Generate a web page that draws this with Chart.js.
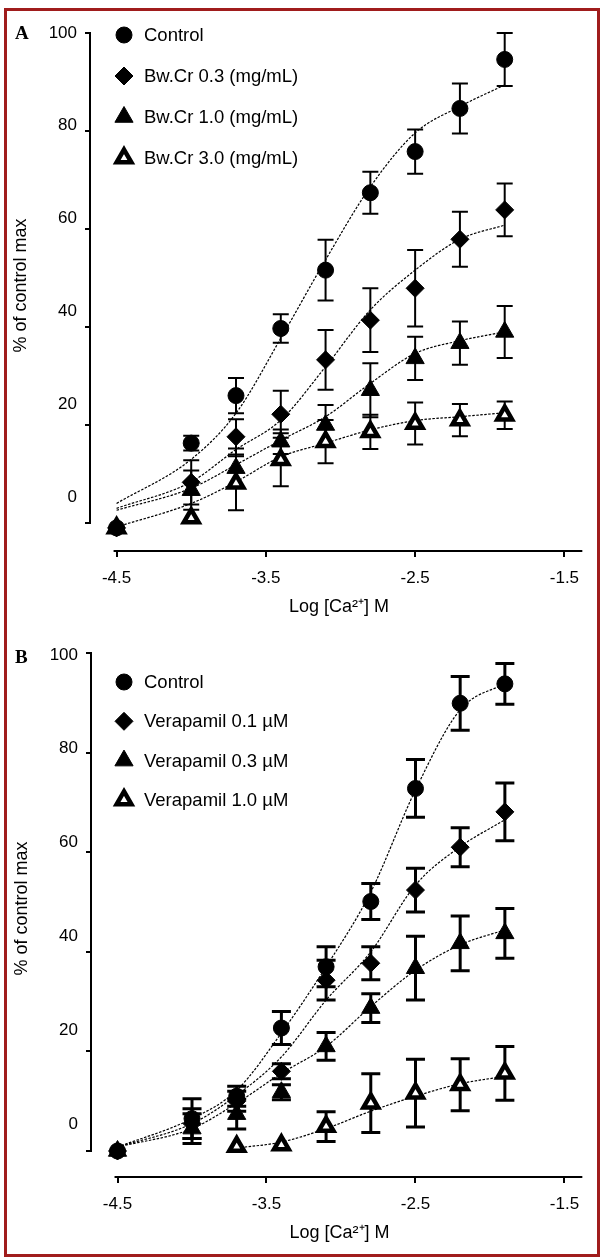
<!DOCTYPE html>
<html lang="en">
<head>
    <meta charset="UTF-8">
    <title>Ca2+ concentration-response curves</title>
    <script src="https://cdn.jsdelivr.net/npm/chart.js"></script>
    <style>
        * {
            margin: 0;
            padding: 0;
            box-sizing: border-box;
        }

        body {
            background: #fff;
            width: 601px;
            height: 1258px;
            position: relative;
            overflow: hidden;
            font-family: "Liberation Sans", Arial, sans-serif;
        }

        .panel {
            position: absolute;
            left: 0;
        }

        #chartA { top: 0; }
        #chartB { top: 620px; }

        .letter {
            position: absolute;
            left: 15px;
            font: bold 19px/19px "Liberation Serif", "DejaVu Serif", serif;
            color: #000;
        }

        .frame {
            position: absolute;
            left: 4px;
            top: 8px;
            width: 596px;
            height: 1249px;
            border: 3px solid #a01c1c;
            pointer-events: none;
        }
    </style>
</head>
<body>
    <canvas id="chartA" class="panel" width="601" height="620"></canvas>
    <canvas id="chartB" class="panel" width="601" height="638"></canvas>
    <div class="letter" style="top:23px">A</div>
    <div class="letter" style="top:647px">B</div>
    <div class="frame"></div>

    <script>
        // log10 of the Ca2+ concentrations tested
        const LOG_CA = [-4.5, -4.0, -3.7, -3.4, -3.1, -2.8, -2.5, -2.2, -1.9];
        const X_TICKS = [-4.5, -3.5, -2.5, -1.5];
        const Y_TICKS = [0, 20, 40, 60, 80, 100];

        // Panel A - Bw.Cr
        const A_LABELS = ['Control', 'Bw.Cr 0.3 (mg/mL)', 'Bw.Cr 1.0 (mg/mL)', 'Bw.Cr 3.0 (mg/mL)'];
        const A_CONTROL = [-1, 16.3, 26, 39.7, 51.6, 67.4, 75.8, 84.6, 94.6];
        const A_CONTROL_ERR = [0, 1.5, 3.6, 2.9, 6.2, 4.3, 4.5, 5.1, 5.4];
        const A_BW03 = [-1, 8.3, 17.6, 22.2, 33.3, 41.4, 47.9, 57.9, 63.9];
        const A_BW03_ERR = [0, 4.5, 3.6, 4.8, 6.1, 6.5, 7.8, 5.6, 5.4];
        const A_BW10 = [-1, 6.7, 11.2, 16.6, 20, 27.1, 33.6, 36.7, 39];
        const A_BW10_ERR = [0, 4, 4, 2.5, 4.1, 5.5, 4.4, 4.4, 5.3];
        const A_BW30 = [-1, 1, 8.1, 12.9, 16.6, 18.6, 20.3, 21, 22];
        const A_BW30_ERR = [0, 0, 5.5, 5.4, 4.4, 3.5, 4.3, 3.3, 2.8];
        // fitted curves, read at the same concentrations
        const A_CONTROL_FIT = [4, 13, 22.4, 37.7, 53.7, 68.6, 79.6, 85, 89.4];
        const A_BW03_FIT = [3, 8.4, 15, 21, 31.9, 43.5, 51.6, 57.9, 60.8];
        const A_BW10_FIT = [2.6, 7.1, 11.9, 16.9, 21.7, 28.5, 34.6, 37.2, 39];
        const A_BW30_FIT = [-0.8, 4, 8.4, 13.5, 16.3, 19, 20.9, 21.7, 22.5];

        // Panel B - Verapamil
        const B_LABELS = ['Control', 'Verapamil 0.1 µM', 'Verapamil 0.3 µM', 'Verapamil 1.0 µM'];
        const B_CONTROL = [0, 6.5, 11, 24.7, 37, 50.1, 72.8, 89.9, 93.8];
        const B_CONTROL_ERR = [0, 4, 2, 3.3, 4, 3.6, 5.8, 5.4, 4.1];
        const B_VER01 = [0, 5.5, 10, 16, 34.3, 37.7, 52.4, 61, 68.1];
        const B_VER01_ERR = [0, 3, 2, 1.5, 4, 3.3, 4.4, 3.9, 5.8];
        const B_VER03 = [0, 4.5, 7.4, 11.8, 21, 28.7, 36.7, 41.7, 43.7];
        const B_VER03_ERR = [0, 3, 3, 1.5, 2.8, 2.9, 6.4, 5.5, 5];
        const B_VER10 = [null, null, 0.9, 1.2, 4.9, 9.6, 11.6, 13.3, 15.6];
        const B_VER10_ERR = [null, null, 0, 0, 3, 5.9, 6.8, 5.2, 5.4];
        const B_CONTROL_FIT = [0.8, 6.5, 12.2, 23.7, 37, 52, 72.5, 88.6, 93.9];
        const B_VER01_FIT = [0.8, 5.5, 11.2, 18.9, 30.3, 40, 53.4, 61.1, 66.5];
        const B_VER03_FIT = [0.8, 4.5, 9.6, 15.6, 21, 29, 36.3, 41.4, 44.4];
        const B_VER10_FIT = [null, null, 0.6, 1.8, 4.5, 8, 11, 13.5, 15];

        // marker per series: control, low, mid, high
        const MARKERS = [
            { pointStyle: 'circle', radius: 8, fill: '#000', border: 1 },
            { pointStyle: 'rectRot', radius: 9, fill: '#000', border: 1 },
            { pointStyle: 'triangle', radius: 10.5, fill: '#000', border: 1 },
            { pointStyle: 'triangle', radius: 8.5, fill: '#fff', border: 4.5 }
        ];

        Chart.defaults.font.family = '"Liberation Sans", Arial, sans-serif';
        Chart.defaults.color = '#000';

        const toPoints = values => LOG_CA
            .map((x, i) => ({ x: x, y: values[i] }))
            .filter(p => p.y !== null);

        // axis lines, error bars and the in-plot legend
        const sigmaStyle = {
            id: 'sigmaStyle',
            beforeDatasetsDraw(chart, args, opts) {
                const ctx = chart.ctx;
                const x = chart.scales.x, y = chart.scales.y;
                const area = chart.chartArea;
                ctx.save();
                ctx.strokeStyle = '#000';
                ctx.lineWidth = 2;
                ctx.beginPath();
                ctx.moveTo(area.left, y.getPixelForValue(Y_TICKS[0]) + 1);
                ctx.lineTo(area.left, y.getPixelForValue(Y_TICKS[Y_TICKS.length - 1]) - 1);
                ctx.moveTo(x.getPixelForValue(opts.xLine[0]), area.bottom);
                ctx.lineTo(x.getPixelForValue(opts.xLine[1]), area.bottom);
                ctx.stroke();

                // error bars
                opts.errors.forEach((errs, s) => {
                    const means = opts.means[s];
                    LOG_CA.forEach((lx, i) => {
                        if (means[i] === null || !errs[i]) return;
                        const px = x.getPixelForValue(lx);
                        const top = y.getPixelForValue(means[i] + errs[i]);
                        const bot = y.getPixelForValue(means[i] - errs[i]);
                        ctx.lineWidth = opts.bar;
                        ctx.beginPath();
                        ctx.moveTo(px, top);
                        ctx.lineTo(px, bot);
                        ctx.stroke();
                        ctx.lineWidth = opts.capWidth;
                        ctx.beginPath();
                        ctx.moveTo(px - opts.cap, top);
                        ctx.lineTo(px + opts.cap, top);
                        ctx.moveTo(px - opts.cap, bot);
                        ctx.lineTo(px + opts.cap, bot);
                        ctx.stroke();
                    });
                });
                ctx.restore();
            },
            afterDraw(chart, args, opts) {
                const ctx = chart.ctx;
                const lg = opts.legend;
                ctx.save();
                ctx.font = '18.5px "Liberation Sans", Arial, sans-serif';
                ctx.textBaseline = 'middle';
                ctx.textAlign = 'left';
                opts.labels.forEach((label, i) => {
                    const m = MARKERS[i];
                    const ly = lg.y0 + i * lg.dy;
                    ctx.fillStyle = m.fill;
                    ctx.strokeStyle = '#000';
                    ctx.lineWidth = m.border;
                    Chart.helpers.drawPoint(ctx, {
                        pointStyle: m.pointStyle, radius: m.radius, borderWidth: m.border, rotation: 0
                    }, lg.x, ly);
                    ctx.fillStyle = '#000';
                    ctx.fillText(label, lg.textX, ly + 1);
                });
                ctx.restore();
            }
        };

        function makePanel(canvasId, p) {
            const datasets = [];
            p.means.forEach((values, s) => {
                const m = MARKERS[s];
                datasets.push({
                    label: p.labels[s],
                    data: toPoints(values),
                    order: 0,
                    showLine: false,
                    pointStyle: m.pointStyle,
                    pointRadius: m.radius,
                    pointBackgroundColor: m.fill,
                    pointBorderColor: '#000',
                    pointBorderWidth: m.border
                });
                datasets.push({
                    label: p.labels[s] + ' fit',
                    data: toPoints(p.fits[s]),
                    order: 1,
                    showLine: true,
                    pointRadius: 0,
                    borderColor: '#000',
                    borderWidth: 1.2,
                    borderDash: [2.5, 1.5],
                    cubicInterpolationMode: 'monotone'
                });
            });

            return new Chart(document.getElementById(canvasId), {
                type: 'scatter',
                data: { datasets: datasets },
                plugins: [sigmaStyle],
                options: {
                    responsive: false,
                    animation: false,
                    layout: { padding: p.padding },
                    plugins: {
                        legend: { display: false },
                        tooltip: { enabled: false },
                        sigmaStyle: {
                            means: p.means,
                            errors: p.errors,
                            labels: p.labels,
                            xLine: [-4.52, -1.38],
                            bar: p.bar,
                            cap: p.cap,
                            capWidth: p.bar,
                            legend: p.legend
                        }
                    },
                    scales: {
                        x: {
                            type: 'linear',
                            position: 'bottom',
                            min: -4.678,
                            max: -1.342,
                            afterBuildTicks: s => { s.ticks = X_TICKS.map(v => ({ value: v })); },
                            afterFit: s => { s.height = 69; },
                            ticks: { font: { size: 17 }, padding: 11, callback: v => v.toFixed(1) },
                            grid: { drawOnChartArea: false, tickLength: 6, color: '#000', lineWidth: 2 },
                            border: { display: false },
                            title: {
                                display: true,
                                text: 'Log [Ca²⁺] M',
                                font: { size: 18 },
                                padding: { top: 0, bottom: 2 }
                            }
                        },
                        // data scale: draws only the tick marks
                        y: {
                            type: 'linear',
                            position: 'left',
                            weight: 0,
                            min: p.yMin,
                            max: p.yMax,
                            afterBuildTicks: s => { s.ticks = Y_TICKS.map(v => ({ value: v })); },
                            afterFit: s => { s.width = 5; },
                            ticks: { display: false },
                            grid: { drawOnChartArea: false, tickLength: 5, color: '#000', lineWidth: 2 },
                            border: { display: false }
                        },
                        // label scale: the printed numbers sit a bit off the tick marks
                        yl: {
                            type: 'linear',
                            position: 'left',
                            weight: 1,
                            min: p.labelMin,
                            max: p.labelMax,
                            afterBuildTicks: s => { s.ticks = Y_TICKS.map(v => ({ value: v })); },
                            afterFit: s => { s.width = p.labelWidth; },
                            ticks: { font: { size: 17 }, padding: 8 },
                            grid: { display: false, drawTicks: false },
                            border: { display: false },
                            title: {
                                display: true,
                                text: '% of control max',
                                font: { size: 18 },
                                padding: { top: 2, bottom: 2 }
                            }
                        }
                    }
                }
            });
        }

        makePanel('chartA', {
            labels: A_LABELS,
            means: [A_CONTROL, A_BW03, A_BW10, A_BW30],
            errors: [A_CONTROL_ERR, A_BW03_ERR, A_BW10_ERR, A_BW30_ERR],
            fits: [A_CONTROL_FIT, A_BW03_FIT, A_BW10_FIT, A_BW30_FIT],
            yMin: -5.71, yMax: 102.65,
            labelMin: -11.64, labelMax: 102.8,
            labelWidth: 77,
            padding: { left: 8, top: 20, right: 5, bottom: 0 },
            bar: 2, cap: 8,
            legend: { x: 124, textX: 144, y0: 35, dy: 41 }
        });

        makePanel('chartB', {
            labels: B_LABELS,
            means: [B_CONTROL, B_VER01, B_VER03, B_VER10],
            errors: [B_CONTROL_ERR, B_VER01_ERR, B_VER03_ERR, B_VER10_ERR],
            fits: [B_CONTROL_FIT, B_VER01_FIT, B_VER03_FIT, B_VER10_FIT],
            yMin: -5.22, yMax: 102.61,
            labelMin: -11.3, labelMax: 103.2,
            labelWidth: 77,
            padding: { left: 9, top: 20, right: 5, bottom: 12 },
            bar: 3, cap: 9.5,
            legend: { x: 124, textX: 144, y0: 62, dy: 39.3 }
        });
    </script>
</body>
</html>
